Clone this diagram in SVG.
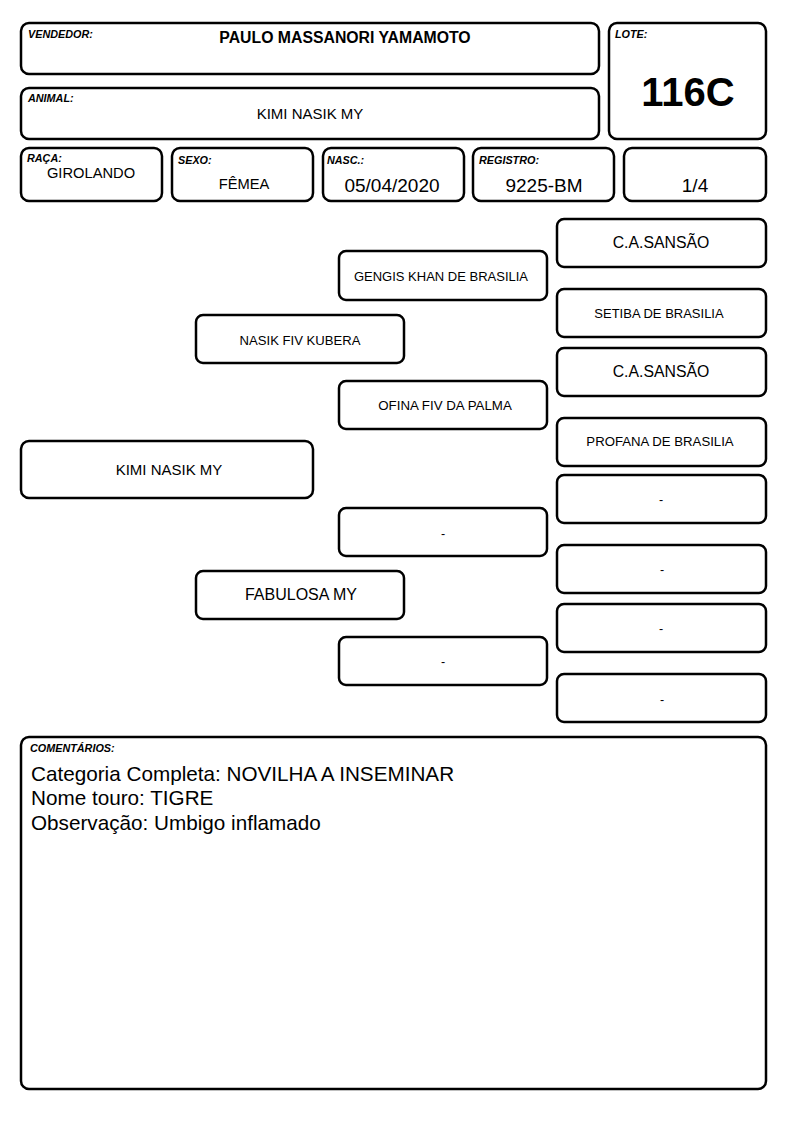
<svg xmlns="http://www.w3.org/2000/svg" width="794" height="1123" viewBox="0 0 794 1123">
<style>
.b{fill:#fff;stroke:#000;stroke-width:2.5}
.lb{font-family:"Liberation Sans",Arial,sans-serif;font-size:10.8px;font-weight:bold;font-style:italic}
.t{font-family:"Liberation Sans",Arial,sans-serif;text-anchor:middle;fill:#000}
.c{font-family:"Liberation Sans",Arial,sans-serif;font-size:20.7px}
</style>
<rect width="794" height="1123" fill="#fff"/>
<g id="vendedor"><rect class="b" x="21" y="23" width="578" height="51" rx="8"/><text class="lb" x="28" y="38">VENDEDOR:</text><text class="t" x="345" y="43" font-size="15.8" font-weight="bold">PAULO MASSANORI YAMAMOTO</text></g>
<g id="animal"><rect class="b" x="21" y="88" width="578" height="51" rx="8"/><text class="lb" x="28" y="102">ANIMAL:</text><text class="t" x="310" y="119" font-size="15">KIMI NASIK MY</text></g>
<g id="lote"><rect class="b" x="609" y="23" width="157" height="116" rx="8"/><text class="lb" x="615" y="38">LOTE:</text><text class="t" x="688" y="106" font-size="40" font-weight="bold">116C</text></g>
<g id="raca"><rect class="b" x="21" y="148" width="141" height="53" rx="8"/><text class="lb" x="27" y="162">RAÇA:</text><text class="t" x="91" y="178" font-size="14.7">GIROLANDO</text></g>
<g id="sexo"><rect class="b" x="172" y="148" width="141" height="53" rx="8"/><text class="lb" x="178" y="164">SEXO:</text><text class="t" x="244" y="189" font-size="14.7">FÊMEA</text></g>
<g id="nasc"><rect class="b" x="323" y="148" width="141" height="53" rx="8"/><text class="lb" x="327" y="164">NASC.:</text><text class="t" x="392" y="192" font-size="19">05/04/2020</text></g>
<g id="registro"><rect class="b" x="473" y="148" width="141" height="53" rx="8"/><text class="lb" x="479" y="164">REGISTRO:</text><text class="t" x="544" y="192" font-size="19">9225-BM</text></g>
<g id="fracao"><rect class="b" x="624" y="148" width="142" height="53" rx="8"/><text class="t" x="695" y="192" font-size="19">1/4</text></g>
<g id="connectors"></g>
<g id="p1"><rect class="b" x="557" y="219" width="209" height="48" rx="7"/><text class="t" x="661" y="248" font-size="15.8">C.A.SANSÃO</text></g>
<g id="p2"><rect class="b" x="339" y="251" width="208" height="49" rx="7"/><text class="t" x="441" y="281" font-size="13">GENGIS KHAN DE BRASILIA</text></g>
<g id="p3"><rect class="b" x="557" y="289" width="209" height="48" rx="7"/><text class="t" x="659" y="318" font-size="13">SETIBA DE BRASILIA</text></g>
<g id="p4"><rect class="b" x="196" y="315" width="208" height="48" rx="7"/><text class="t" x="300" y="345" font-size="13.1">NASIK FIV KUBERA</text></g>
<g id="p5"><rect class="b" x="557" y="348" width="209" height="48" rx="7"/><text class="t" x="661" y="377" font-size="15.8">C.A.SANSÃO</text></g>
<g id="p6"><rect class="b" x="339" y="381" width="208" height="48" rx="7"/><text class="t" x="445" y="410" font-size="13.3">OFINA FIV DA PALMA</text></g>
<g id="p7"><rect class="b" x="557" y="418" width="209" height="48" rx="7"/><text class="t" x="660" y="446" font-size="13.2">PROFANA DE BRASILIA</text></g>
<g id="p8"><rect class="b" x="21" y="441" width="292" height="57" rx="8"/><text class="t" x="169" y="475" font-size="15">KIMI NASIK MY</text></g>
<g id="p9"><rect class="b" x="557" y="475" width="209" height="48" rx="7"/><text class="t" x="661" y="504" font-size="12.5">-</text></g>
<g id="p10"><rect class="b" x="339" y="508" width="208" height="48" rx="7"/><text class="t" x="443" y="538" font-size="12.5">-</text></g>
<g id="p11"><rect class="b" x="557" y="545" width="209" height="48" rx="7"/><text class="t" x="662" y="574" font-size="12.5">-</text></g>
<g id="p12"><rect class="b" x="196" y="571" width="208" height="48" rx="7"/><text class="t" x="301" y="600" font-size="16">FABULOSA MY</text></g>
<g id="p13"><rect class="b" x="557" y="604" width="209" height="48" rx="7"/><text class="t" x="661" y="633" font-size="12.5">-</text></g>
<g id="p14"><rect class="b" x="339" y="637" width="208" height="48" rx="7"/><text class="t" x="443" y="666" font-size="12.5">-</text></g>
<g id="p15"><rect class="b" x="557" y="674" width="209" height="48" rx="7"/><text class="t" x="662" y="704" font-size="12.5">-</text></g>
<g id="comentarios"><rect class="b" x="21" y="737" width="745" height="352" rx="8"/><text class="lb" x="30" y="752">COMENTÁRIOS:</text>
<text class="c" x="31" y="781">Categoria Completa: NOVILHA A INSEMINAR</text><text class="c" x="31" y="805">Nome touro: TIGRE</text><text class="c" x="31" y="830">Observação: Umbigo inflamado</text></g>
</svg>
